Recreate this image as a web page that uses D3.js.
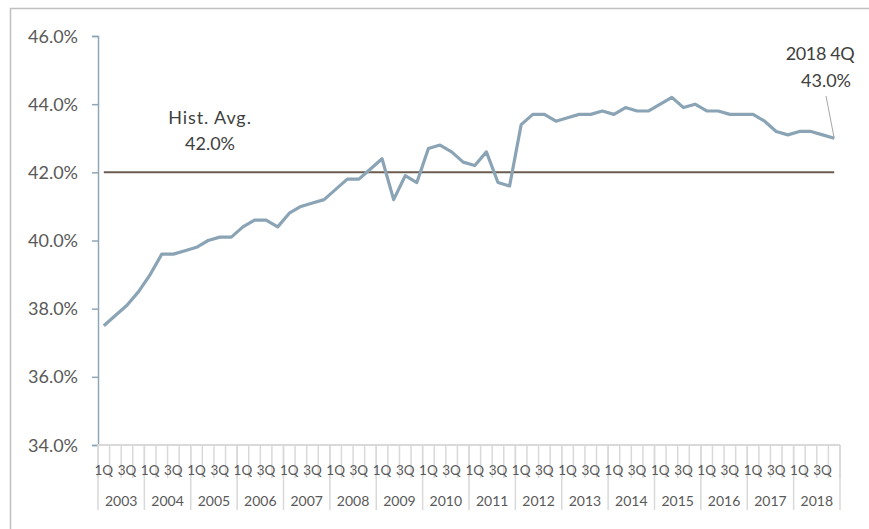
<!DOCTYPE html>
<html>
<head>
<meta charset="utf-8">
<script src="https://cdn.jsdelivr.net/npm/d3@7"></script>
<style>
  html, body { margin: 0; padding: 0; background: #fff; }
  svg { display: block; font-family: Lato, "Open Sans", sans-serif; }
</style>
</head>
<body>
<svg id="chart" width="869" height="529"></svg>
<script>
const years = ["2003","2004","2005","2006","2007","2008","2009","2010","2011","2012","2013","2014","2015","2016","2017","2018"];
const quarters = ["1Q","2Q","3Q","4Q"];
const quarterLabels = ["1Q","","3Q",""];
const values = [
  37.5, 37.8, 38.1, 38.5,
  39.0, 39.6, 39.6, 39.7,
  39.8, 40.0, 40.1, 40.1,
  40.4, 40.6, 40.6, 40.4,
  40.8, 41.0, 41.1, 41.2,
  41.5, 41.8, 41.8, 42.1,
  42.4, 41.2, 41.9, 41.7,
  42.7, 42.8, 42.6, 42.3,
  42.2, 42.6, 41.7, 41.6,
  43.4, 43.7, 43.7, 43.5,
  43.6, 43.7, 43.7, 43.8,
  43.7, 43.9, 43.8, 43.8,
  44.0, 44.2, 43.9, 44.0,
  43.8, 43.8, 43.7, 43.7,
  43.7, 43.5, 43.2, 43.1,
  43.2, 43.2, 43.1, 43.0
];
const histAvg = 42.0;
const yTicks = [34, 36, 38, 40, 42, 44, 46];

const svg = d3.select("#chart");
const mLeft = 98, mRight = 840, mTop = 36, mBottom = 445;

const cats = [];
years.forEach(yy => quarters.forEach(q => cats.push(yy + " " + q)));
const data = cats.map((c, i) => ({ c, v: values[i], y: c.slice(0,4), q: c.slice(5) }));

const x = d3.scaleBand().domain(cats).range([mLeft, mRight]);
const xYear = d3.scaleBand().domain(years).range([mLeft, mRight]);
const y = d3.scaleLinear().domain([34, 46]).range([mBottom, mTop]);
const cx = c => x(c) + x.bandwidth() / 2;

// frame
svg.append("rect").attr("x", 10.5).attr("y", 8.5).attr("width", 880).attr("height", 540)
  .attr("fill", "none").attr("stroke", "#c0c0c0").attr("stroke-width", 1.5);

// y axis
const yAxis = d3.axisLeft(y).tickValues(yTicks).tickSize(6).tickPadding(14)
  .tickFormat(d => d.toFixed(1) + "%");
const gy = svg.append("g").attr("transform", `translate(${mLeft},0)`).call(yAxis);
gy.select(".domain").attr("stroke", "#8ea7b9").attr("stroke-width", 1.5);
gy.selectAll(".tick line").attr("stroke", "#8ea7b9").attr("stroke-width", 1.5);
gy.selectAll(".tick text").attr("fill", "#595959").attr("font-size", 18)
  .attr("font-family", "Lato, sans-serif").attr("dy", "0.34em");

// x axis baseline
svg.append("line").attr("x1", mLeft).attr("x2", mRight).attr("y1", mBottom).attr("y2", mBottom)
  .attr("stroke", "#d9d9d9").attr("stroke-width", 2);

// quarter ticks
const qb = cats.map(c => x(c)).concat([mRight]);
svg.append("g").selectAll("line").data(qb).join("line")
  .attr("x1", d => d).attr("x2", d => d)
  .attr("y1", mBottom).attr("y2", mBottom + 33)
  .attr("stroke", "#d9d9d9").attr("stroke-width", 1.5);
// year separators
const yb = years.map(yy => xYear(yy)).concat([mRight]);
svg.append("g").selectAll("line").data(yb).join("line")
  .attr("x1", d => d).attr("x2", d => d)
  .attr("y1", mBottom).attr("y2", mBottom + 65)
  .attr("stroke", "#d9d9d9").attr("stroke-width", 1.5);

// quarter labels
svg.append("g").selectAll("text").data(data.filter(d => quarterLabels[quarters.indexOf(d.q)] !== ""))
  .join("text")
  .attr("x", d => cx(d.c)).attr("y", mBottom + 30)
  .attr("text-anchor", "middle").attr("fill", "#595959").attr("font-size", 13.5)
  .text(d => quarterLabels[quarters.indexOf(d.q)]);

// year labels
svg.append("g").selectAll("text").data(years).join("text")
  .attr("x", d => xYear(d) + xYear.bandwidth() / 2).attr("y", mBottom + 61)
  .attr("text-anchor", "middle").attr("fill", "#595959").attr("font-size", 14)
  .text(d => d);

// historical average line
svg.append("line")
  .attr("x1", cx(cats[0])).attr("x2", cx(cats[cats.length - 1]))
  .attr("y1", y(histAvg)).attr("y2", y(histAvg))
  .attr("stroke", "#6b5d50").attr("stroke-width", 2);

// series line
const line = d3.line().x(d => cx(d.c)).y(d => y(d.v));
svg.append("path").datum(data).attr("d", line)
  .attr("fill", "none").attr("stroke", "#8aa4b5").attr("stroke-width", 3.2)
  .attr("stroke-linejoin", "round");

// annotations
const ann = svg.append("g").attr("fill", "#404040").attr("font-size", 18).attr("text-anchor", "middle");
ann.append("text").attr("x", 210).attr("y", 124).attr("letter-spacing", 0.9).text("Hist. Avg.");
ann.append("text").attr("x", 210).attr("y", 150).text(histAvg.toFixed(1) + "%");

const last = data[data.length - 1];
ann.append("text").attr("x", 820).attr("y", 60).attr("letter-spacing", -0.4).text(last.y + " " + last.q);
ann.append("text").attr("x", 826).attr("y", 87).text(last.v.toFixed(1) + "%");
svg.append("line").attr("x1", 826).attr("y1", 96).attr("x2", cx(last.c)).attr("y2", y(last.v))
  .attr("stroke", "#a6a6a6").attr("stroke-width", 1);
</script>
</body>
</html>
